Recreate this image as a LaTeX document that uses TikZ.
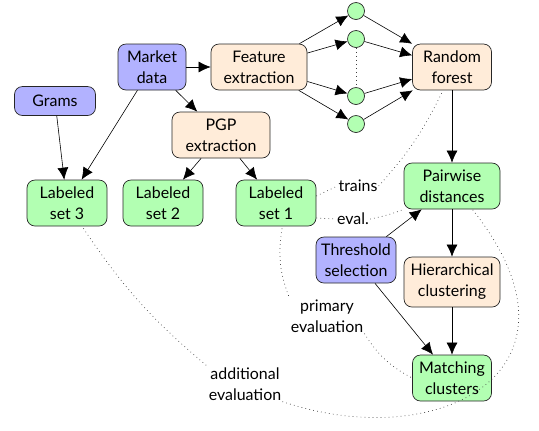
\documentclass[tikz,border=0pt]{standalone}
\usepackage{fontspec}
\setmainfont{Lato}
\usetikzlibrary{arrows.meta}
\begin{document}
\begin{tikzpicture}[x=1bp,y=-1bp,
  font=\fontsize{16}{21}\selectfont,
  box/.style={draw=black!85, rounded corners=8bp, align=center, inner sep=0pt, minimum height=46bp, line width=0.7pt},
  inbox/.style={box, fill=blue!30},
  procbox/.style={box, fill=orange!15},
  setbox/.style={box, fill=green!30},
  dot/.style={circle, draw=black!85, fill=green!30, minimum size=17bp, inner sep=0pt, line width=0.7pt},
  arr/.style={-{Latex[length=12bp,width=11bp]}, line width=0.6pt},
  dots/.style={line width=0.7pt, black!75, dash pattern=on 0.7bp off 3.3bp},
  lbl/.style={inner sep=1bp, align=center}]
\useasboundingbox (0,0) rectangle (539,430);

% inputs
\node[inbox, minimum width=68bp] (market) at (152,67) {Market\\data};
\node[inbox, minimum width=81bp, minimum height=29bp] (grams) at (55,101) {Grams};
\node[inbox, minimum width=80bp] (thresh) at (356,260) {Threshold\\selection};

% processing steps
\node[procbox, minimum width=96bp] (feat) at (259,67) {Feature\\extraction};
\node[procbox, minimum width=98bp] (pgp) at (221,135) {PGP\\extraction};
\node[procbox, minimum width=79bp] (rf) at (452,67) {Random\\forest};
\node[procbox, minimum width=96bp, minimum height=50bp] (hier) at (452,282) {Hierarchical\\clustering};

% data sets and results
\node[setbox, minimum width=80bp] (ls3) at (67,203) {Labeled\\set 3};
\node[setbox, minimum width=80bp] (ls2) at (163,203) {Labeled\\set 2};
\node[setbox, minimum width=80bp] (ls1) at (276,203) {Labeled\\set 1};
\node[setbox, minimum width=96bp] (pair) at (452,186) {Pairwise\\distances};
\node[setbox, minimum width=79bp] (match) at (452,378) {Matching\\clusters};

% forest trees
\node[dot] (t1) at (356,11) {};
\node[dot] (t2) at (356,39) {};
\node[dot] (t3) at (356,96) {};
\node[dot] (t4) at (356,124) {};
\draw[dots] (t2) -- (t3);

% data flow
\draw[arr] (market) -- (feat);
\draw[arr] (market) -- (pgp);
\draw[arr] (market) -- (ls3);
\draw[arr] (grams) -- (ls3);
\draw[arr] (pgp) -- (ls2);
\draw[arr] (pgp) -- (ls1);
\foreach \t in {t1,t2,t3,t4} {
  \draw[arr] (feat) -- (\t);
  \draw[arr] (\t) -- (rf);
}
\draw[arr] (rf) -- (pair);
\draw[arr] (pair) -- (hier);
\draw[arr] (hier) -- (match);
\draw[arr] (thresh) -- (pair);
\draw[arr] (thresh) -- (match);

% evaluation links
\node[lbl] (trains) at (358,186) {trains};
\node[lbl] (eval) at (353,219) {eval.};
\node[lbl] (prim) at (327,316) {primary\\evaluation};
\node[lbl] (add) at (245,384) {additional\\evaluation};

\draw[dots] (ls1.east |- 0,196) -- (trains.west);
\draw[dots] (trains.east) to[bend right=8] (rf.south west -| 443,0);
\draw[dots] (ls1.east |- 0,218) -- (eval.west);
\draw[dots] (eval.east) to[bend right=5] (pair.south west);
\draw[dots] (ls1.south) ++(6,2) coordinate (p1s) to[bend right=15] (prim.north west);
\draw[dots] (prim.south east) to[bend right=15] (match.west);
\draw[dots] (ls3.south east) ++(-24,2) coordinate (a3s) to[bend right=8] (add.north west);
\draw[dots] (add.south east) .. controls (440,455) and (600,370) .. ([xshift=-28bp]pair.south east);
\end{tikzpicture}
\end{document}
